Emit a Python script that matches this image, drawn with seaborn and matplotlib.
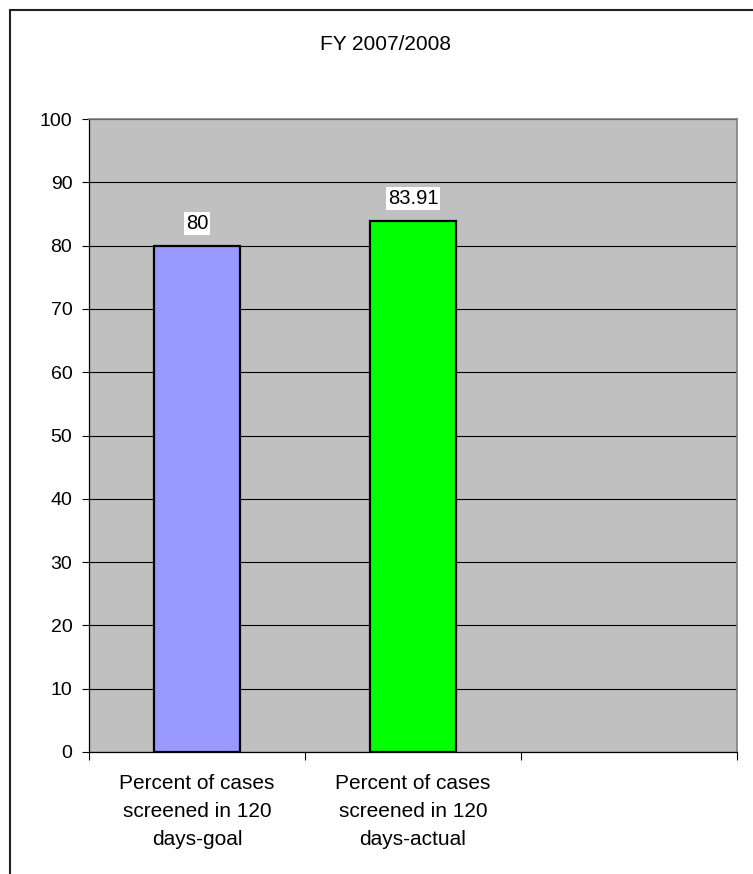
import matplotlib
matplotlib.use("Agg")
import matplotlib.pyplot as plt
import seaborn as sns
import pandas as pd
from matplotlib.lines import Line2D

# ---- data ----
categories = ["Percent of cases\nscreened in 120\ndays-goal",
              "Percent of cases\nscreened in 120\ndays-actual"]
values = [80, 83.91]
value_labels = ["80", "83.91"]
bar_colors = ["#9999FF", "#00FF00"]
title = "FY 2007/2008"
yticks = list(range(0, 101, 10))

sns.set_style("white")
plt.rcParams["font.family"] = ["Liberation Sans", "DejaVu Sans"]
plt.rcParams["text.color"] = "black"
plt.rcParams["xtick.color"] = "black"
plt.rcParams["ytick.color"] = "black"
plt.rcParams["axes.labelcolor"] = "black"

df = pd.DataFrame({"cat": categories, "val": values})

fig = plt.figure(figsize=(7.53, 8.74), dpi=100)
ax = fig.add_axes([89/753, 122/874, 648/753, 633/874])
ax.set_facecolor("#C0C0C0")

sns.barplot(data=df, x="cat", y="val", hue="cat", palette=bar_colors,
            legend=False, width=0.4, edgecolor="black", linewidth=1.6,
            saturation=1, ax=ax, zorder=3)

ax.set_xlim(-0.5, 2.5)
ax.set_ylim(0, 100)
ax.set_yticks(yticks)
ax.yaxis.grid(True, color="black", linewidth=0.8, zorder=1)
ax.set_axisbelow(True)
ax.set_xlabel("")
ax.set_ylabel("")

# tick styling
ax.tick_params(axis="y", direction="out", length=5, width=0.8, color="black",
               labelcolor="black", labelsize=14, pad=7, left=True)
ax.set_xticks([0, 1])
ax.set_xticklabels(categories, fontsize=15, linespacing=1.6, color="black")
ax.tick_params(axis="x", which="major", length=0, pad=16)
ax.set_xticks([-0.5, 0.5, 1.5, 2.5], minor=True)
ax.tick_params(axis="x", which="minor", direction="out", length=6, width=0.8,
               color="black", bottom=True)

for side in ["top", "right"]:
    ax.spines[side].set_color("#808080")
    ax.spines[side].set_linewidth(1.2)
for side in ["left", "bottom"]:
    ax.spines[side].set_color("black")
    ax.spines[side].set_linewidth(0.9)

# value labels
for i, (v, lab) in enumerate(zip(values, value_labels)):
    ax.annotate(lab, xy=(i, v), xytext=(0, 16), textcoords="offset points",
                ha="center", va="center", fontsize=14.5, zorder=5,
                color="black",
                bbox=dict(boxstyle="square,pad=0.1", facecolor="white",
                          edgecolor="none"))

# title
fig.text(385/753, 1 - 44/874, title, ha="center", va="center", fontsize=15,
         color="black")

# outer chart border (left and top)
fig.add_artist(Line2D([10/753, 10/753], [0, 1 - 10/874], color="#222222",
                      linewidth=1.5, transform=fig.transFigure))
fig.add_artist(Line2D([10/753, 1], [1 - 10/874, 1 - 10/874], color="#222222",
                      linewidth=1.5, transform=fig.transFigure))

fig.savefig("out.png", dpi=100)
